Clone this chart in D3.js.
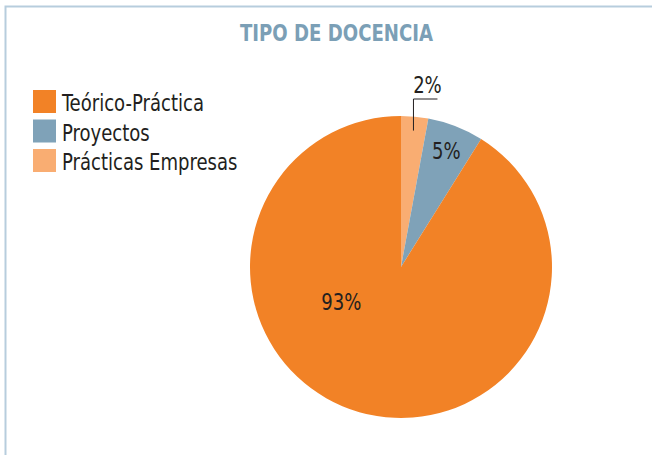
<!DOCTYPE html>
<html lang="es">
<head>
<meta charset="UTF-8" />
<title>Tipo de docencia</title>
<script src="https://cdn.jsdelivr.net/npm/d3@7"></script>
<style>
	body { margin: 0; background: #fff; }
	text { font-family: "Liberation Sans Narrow", "DejaVu Sans Condensed", "Open Sans", sans-serif; }
</style>
</head>
<body>
<svg id="vis" width="652" height="455"></svg>
<script>
	// categorias en el orden de la leyenda
	const categorias = ["Teórico-Práctica", "Proyectos", "Prácticas Empresas"];
	// porcentajes (angulo de cada sector)
	const valores = [91.1, 6.0, 2.9];
	// etiquetas tal como aparecen
	const etiquetas = ["93%", "5%", "2%"];
	const colores = ["#f28226", "#7fa2b8", "#f9ad72"];

	const svg = d3.select("#vis");

	// la fuente del original es mas estrecha: se calcula un factor
	// para que "Teórico-Práctica" mida unos 142px
	let prueba = svg.append("text").attr("font-size", 23.5).text(categorias[0]);
	const estrecho = 142 / prueba.node().getComputedTextLength();
	prueba.remove();

	function texto(sel) {
		// aplica el estrechamiento al texto ya escrito
		let w = sel.node().getComputedTextLength();
		sel.attr("textLength", w * estrecho).attr("lengthAdjust", "spacingAndGlyphs");
		return sel;
	}

	// marco (solo arriba e izquierda)
	svg.append("path")
		.attr("d", "M5.5,455 L5.5,6.5 L652,6.5")
		.attr("fill", "none")
		.attr("stroke", "#b7cddd")
		.attr("stroke-width", 2);

	// titulo
	svg.append("text")
		.attr("x", 336.5)
		.attr("y", 41)
		.attr("text-anchor", "middle")
		.attr("font-size", 23)
		.attr("font-weight", "bold")
		.attr("fill", "#7b9fb6")
		.attr("textLength", 193)
		.attr("lengthAdjust", "spacingAndGlyphs")
		.text("TIPO DE DOCENCIA");

	// leyenda
	const gLeg = svg.append("g").attr("transform", "translate(33,90)");
	categorias.forEach(function (c, i) {
		let g = gLeg.append("g").attr("transform", "translate(0," + (i * 29.5) + ")");
		g.append("rect")
			.attr("width", 23)
			.attr("height", 23)
			.attr("fill", colores[i]);
		texto(g.append("text")
			.attr("x", 29)
			.attr("y", 21)
			.attr("font-size", 23.5)
			.attr("fill", "#231f20")
			.text(c));
	});

	// tarta
	const cx = 401, cy = 267, radio = 151;
	const gPie = svg.append("g").attr("transform", "translate(" + cx + "," + cy + ")");

	// en el sentido de las agujas: Prácticas, Proyectos, Teórico
	const orden = [2, 1, 0];
	const pie = d3.pie().sort(null).value(function (i) { return valores[i]; });
	const arcos = pie(orden);
	const arc = d3.arc().innerRadius(0).outerRadius(radio);

	gPie.selectAll("path.sector")
		.data(arcos)
		.enter()
		.append("path")
		.attr("class", "sector")
		.attr("d", arc)
		.attr("fill", function (d) { return colores[d.data]; });

	function polar(ang, r) {
		return [Math.sin(ang) * r, -Math.cos(ang) * r];
	}

	// etiquetas
	arcos.forEach(function (d) {
		let i = d.data;
		let mid = (d.startAngle + d.endAngle) / 2;
		if (i === 2) {
			// sector pequeño: etiqueta fuera con linea guia
			let p0 = polar(mid, radio - 14);
			let p1 = [p0[0], -radio - 17];
			let p2 = [p0[0] + 24, -radio - 17];
			gPie.append("polyline")
				.attr("points", [p0, p1, p2].map(function (p) { return p.join(","); }).join(" "))
				.attr("fill", "none")
				.attr("stroke", "#231f20")
				.attr("stroke-width", 1);
			texto(gPie.append("text")
				.attr("x", p0[0] + 14)
				.attr("y", -radio - 23)
				.attr("text-anchor", "middle")
				.attr("font-size", 23.5)
				.attr("fill", "#231f20")
				.text(etiquetas[i]));
		} else {
			let ang = i === 0 ? 240 * Math.PI / 180 : mid;
			let r = i === 0 ? 69 : 125;
			let p = polar(ang, r);
			texto(gPie.append("text")
				.attr("x", p[0])
				.attr("y", p[1])
				.attr("dy", "0.35em")
				.attr("text-anchor", "middle")
				.attr("font-size", 23.5)
				.attr("fill", "#231f20")
				.text(etiquetas[i]));
		}
	});
</script>
</body>
</html>
